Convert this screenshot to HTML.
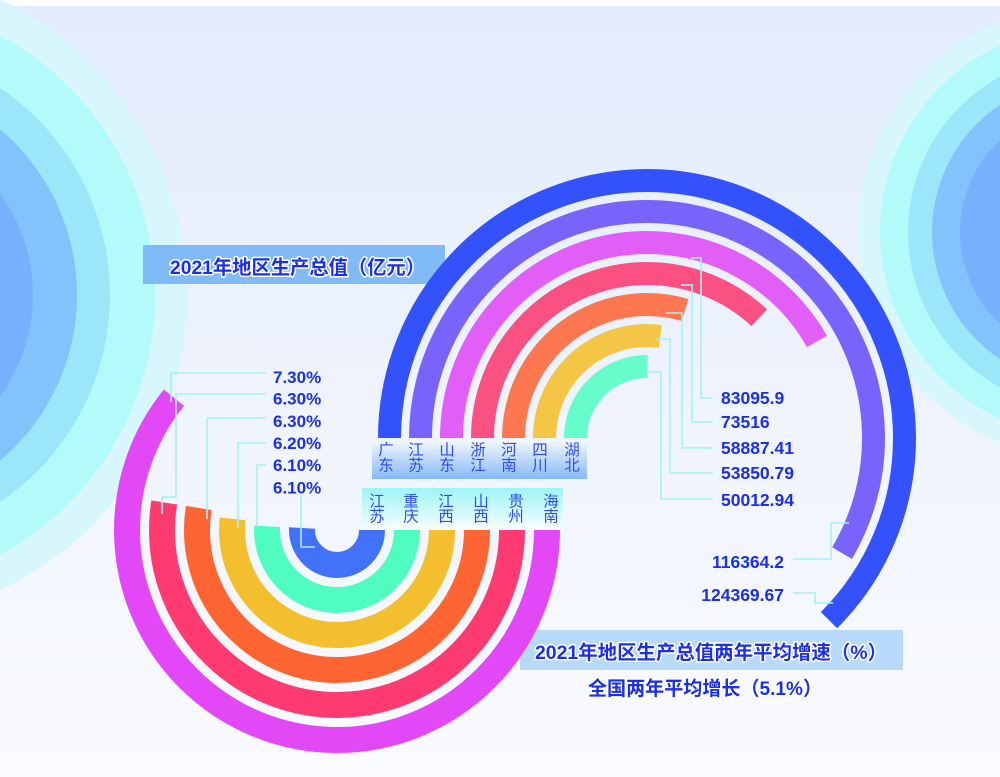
<!DOCTYPE html>
<html>
<head>
<meta charset="utf-8">
<style>
html,body{margin:0;padding:0;background:#fff;}
svg{display:block;}
</style>
</head>
<body>
<svg width="1000" height="777" viewBox="0 0 1000 777" xmlns="http://www.w3.org/2000/svg" font-family="'Liberation Sans','Noto Sans CJK SC',sans-serif">
<defs>
<linearGradient id="bg" x1="0" y1="0" x2="0" y2="1">
<stop offset="0" stop-color="#e2ecfc"/>
<stop offset="0.5" stop-color="#eef3fd"/>
<stop offset="1" stop-color="#fafbff"/>
</linearGradient>
<linearGradient id="lb1" x1="0" y1="0" x2="0" y2="1">
<stop offset="0" stop-color="#f4f8ff"/>
<stop offset="1" stop-color="#86b9f8"/>
</linearGradient>
<linearGradient id="lb2" x1="0" y1="0" x2="0" y2="1">
<stop offset="0" stop-color="#9cf6f6"/>
<stop offset="1" stop-color="#fbfdff"/>
</linearGradient>
</defs>

<!-- background -->
<rect x="0" y="0" width="1000" height="777" fill="url(#bg)"/>
<rect x="0" y="0" width="1000" height="6" fill="#ffffff"/>

<!-- left decorative circles -->
<circle cx="-140" cy="295" r="327" fill="#d8f7fc"/>
<circle cx="-140" cy="295" r="295" fill="#b2fbfa"/>
<circle cx="-140" cy="295" r="250" fill="#9be7f9"/>
<circle cx="-140" cy="295" r="217" fill="#83c3fb"/>
<circle cx="-140" cy="295" r="173" fill="#79b0fb"/>

<!-- right decorative circles -->
<circle cx="1085" cy="232" r="227" fill="#d8f7fc"/>
<circle cx="1085" cy="232" r="205" fill="#b2fbfa"/>
<circle cx="1085" cy="232" r="177" fill="#9be7f9"/>
<circle cx="1085" cy="232" r="153" fill="#83c3fb"/>
<circle cx="1085" cy="232" r="125" fill="#79b0fb"/>

<!-- title boxes -->
<rect x="143" y="245" width="302" height="39" fill="#80bbf8"/>
<rect x="520" y="630" width="383" height="40" fill="#b8dafa"/>

<!-- top chart rings (GDP) -->
<g fill="none" stroke-width="23" transform="rotate(180 647 438)">
<circle cx="647" cy="438" r="257.5" stroke="#3352fb" stroke-dasharray="1011.2 2000"/>
<circle cx="647" cy="438" r="226.5" stroke="#7864fb" stroke-dasharray="832.2 2000"/>
<circle cx="647" cy="438" r="195.5" stroke="#e25ff7" stroke-dasharray="512.9 2000"/>
<circle cx="647" cy="438" r="164.5" stroke="#fb5182" stroke-dasharray="381.8 2000"/>
<circle cx="647" cy="438" r="133.5" stroke="#fd7750" stroke-dasharray="248.2 2000"/>
<circle cx="647" cy="438" r="102.5" stroke="#f5c546" stroke-dasharray="174.3 2000"/>
<circle cx="647" cy="438" r="71.5" stroke="#66fdca" stroke-dasharray="112.9 2000"/>
</g>

<!-- bottom chart rings (growth) -->
<g fill="none" stroke-width="26">
<circle cx="337" cy="530" r="35" stroke="#4272f9" stroke-dasharray="111.8 2000"/>
<circle cx="337" cy="530" r="70" stroke="#50fdc1" stroke-dasharray="223.6 2000"/>
<circle cx="337" cy="530" r="105" stroke="#f4bf2f" stroke-dasharray="340.9 2000"/>
<circle cx="337" cy="530" r="140" stroke="#fe6533" stroke-dasharray="461.8 2000"/>
<circle cx="337" cy="530" r="175" stroke="#fd3b70" stroke-dasharray="577.3 2000"/>
<circle cx="337" cy="530" r="210" stroke="#e348f7" stroke-dasharray="802.7 2000"/>
</g>

<!-- label boxes -->
<rect x="372" y="440" width="215" height="39" fill="url(#lb1)"/>
<rect x="362" y="488" width="201" height="42" fill="url(#lb2)"/>

<g font-family="'Noto Sans CJK SC','Liberation Sans',sans-serif" font-size="15.5" fill="#2f4cf0" text-anchor="middle">
<text x="386" y="455">广</text><text x="386" y="470.5">东</text>
<text x="416" y="455">江</text><text x="416" y="470.5">苏</text>
<text x="447" y="455">山</text><text x="447" y="470.5">东</text>
<text x="478" y="455">浙</text><text x="478" y="470.5">江</text>
<text x="509" y="455">河</text><text x="509" y="470.5">南</text>
<text x="540" y="455">四</text><text x="540" y="470.5">川</text>
<text x="572" y="455">湖</text><text x="572" y="470.5">北</text>

<text x="377" y="506.5">江</text><text x="377" y="521.5">苏</text>
<text x="411" y="506.5">重</text><text x="411" y="521.5">庆</text>
<text x="446" y="506.5">江</text><text x="446" y="521.5">西</text>
<text x="481" y="506.5">山</text><text x="481" y="521.5">西</text>
<text x="516" y="506.5">贵</text><text x="516" y="521.5">州</text>
<text x="551" y="506.5">海</text><text x="551" y="521.5">南</text>
</g>

<!-- leader lines -->
<g fill="none" stroke="#a4f1f3" stroke-width="1.6">
<polyline points="713,398 701,398 701,258 691,258"/>
<polyline points="713,422 692,422 692,285 681,285"/>
<polyline points="713,448 682,448 682,313 666,313"/>
<polyline points="713,473 670,473 670,339 655,339"/>
<polyline points="713,499 661,499 661,372 647,372"/>
<polyline points="793,559 831,559 831,523 849,523"/>
<polyline points="793,593 815,593 815,603 833,603"/>

<polyline points="266,373 171,373 171,402"/>
<polyline points="266,394 176,394 176,497 162,497 162,514"/>
<polyline points="266,418 207,418 207,519"/>
<polyline points="266,443 238,443 238,528"/>
<polyline points="266,465 257,465 257,527"/>
<polyline points="301,495 301,547 315,547"/>
</g>

<!-- value labels -->
<g font-size="17.5" font-weight="bold" fill="#1b2ee8">
<text x="721" y="404">83095.9</text>
<text x="721" y="428">73516</text>
<text x="721" y="454">58887.41</text>
<text x="721" y="479">53850.79</text>
<text x="721" y="506">50012.94</text>
<text x="784" y="568" text-anchor="end">116364.2</text>
<text x="784" y="601" text-anchor="end">124369.67</text>
</g>
<g font-size="17" font-weight="bold" fill="#1b2ee8">
<text x="273" y="383">7.30%</text>
<text x="273" y="404.5">6.30%</text>
<text x="273" y="427">6.30%</text>
<text x="273" y="449">6.20%</text>
<text x="273" y="471">6.10%</text>
<text x="273" y="493.5">6.10%</text>
</g>

<!-- titles -->
<g font-size="19.5" font-weight="bold" fill="#1b2ee8" stroke="#ffffff" stroke-width="3" stroke-linejoin="round" paint-order="stroke">
<text x="170" y="274" textLength="255" lengthAdjust="spacingAndGlyphs">2021年地区生产总值（亿元）</text>
<text x="535" y="659" textLength="352" lengthAdjust="spacingAndGlyphs">2021年地区生产总值两年平均增速（%）</text>
<text x="588" y="695" textLength="234" lengthAdjust="spacingAndGlyphs">全国两年平均增长（5.1%）</text>
</g>
</svg>
</body>
</html>
